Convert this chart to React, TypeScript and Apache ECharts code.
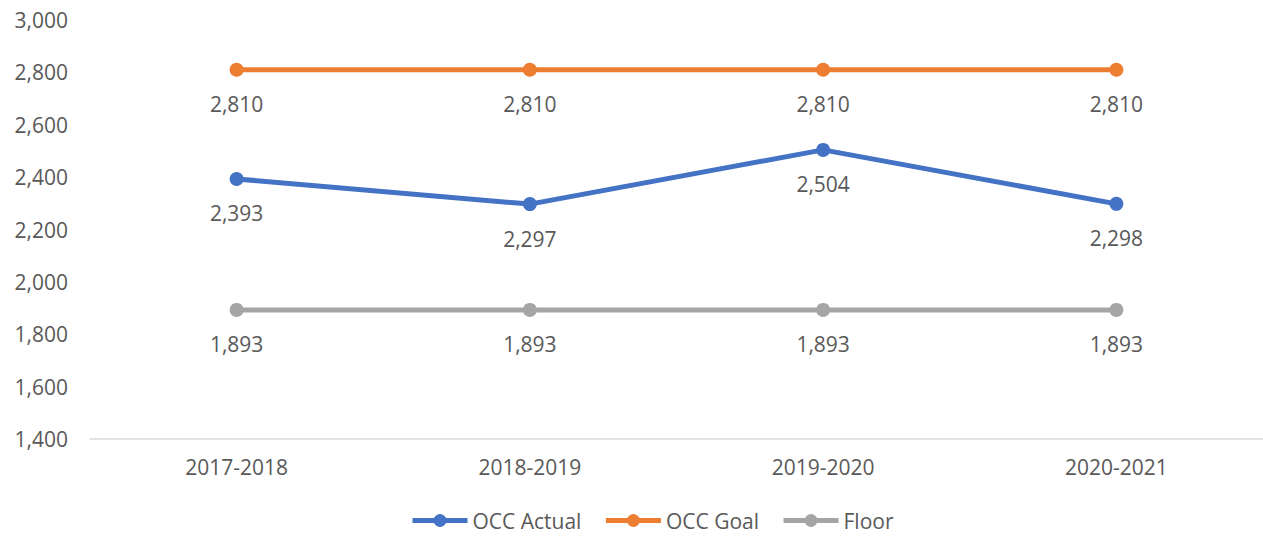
import React, { useEffect, useRef } from "react";
import * as echarts from "echarts";

const categories = ["2017-2018", "2018-2019", "2019-2020", "2020-2021"];
const occActual = [2393, 2297, 2504, 2298];
const occGoal = [2810, 2810, 2810, 2810];
const floor = [1893, 1893, 1893, 1893];
const seriesNames = ["OCC Actual", "OCC Goal", "Floor"];
const colors = ["#4472C4", "#ED7D31", "#A5A5A5"];

const FONT = "'Open Sans', 'Noto Sans', sans-serif";
const TEXT = "#595959";

export default function App() {
  const ref = useRef<HTMLDivElement>(null);
  useEffect(() => {
    if (!ref.current) return;
    const chart = echarts.init(ref.current, undefined, { renderer: "svg" });
    const fmt = (v: number) => v.toLocaleString("en-US");
    const mk = (name: string, data: number[], color: string) => ({
      name,
      type: "line",
      data,
      color,
      symbol: "circle",
      symbolSize: 14,
      lineStyle: { width: 5, color },
      itemStyle: { color },
      label: {
        show: true,
        position: "bottom",
        distance: 17,
        color: TEXT,
        fontFamily: FONT,
        fontSize: 21,
        formatter: (p: any) => fmt(p.value),
      },
    });
    chart.setOption({
      animation: false,
      textStyle: { fontFamily: FONT },
      grid: { left: 90, right: 0, top: 20, bottom: 97, containLabel: false },
      legend: {
        bottom: 0,
        left: 405,
        itemWidth: 55,
        itemHeight: 16,
        itemGap: 22,
        lineStyle: { width: 5 },
        textStyle: { color: TEXT, fontFamily: FONT, fontSize: 21 },
        data: seriesNames,
      },
      xAxis: {
        type: "category",
        data: categories,
        boundaryGap: true,
        axisLine: { show: true, lineStyle: { color: "#D9D9D9", width: 1.5 } },
        axisTick: { show: false },
        axisLabel: { color: TEXT, fontFamily: FONT, fontSize: 21, margin: 17 },
      },
      yAxis: {
        type: "value",
        min: 1400,
        max: 3000,
        interval: 200,
        splitLine: { show: false },
        axisLine: { show: false },
        axisTick: { show: false },
        axisLabel: {
          color: TEXT,
          fontFamily: FONT,
          fontSize: 21,
          margin: 22,
          formatter: (v: number) => fmt(v),
        },
      },
      series: [
        mk(seriesNames[0], occActual, colors[0]),
        mk(seriesNames[1], occGoal, colors[1]),
        mk(seriesNames[2], floor, colors[2]),
      ],
    });
    return () => chart.dispose();
  }, []);
  return (
    <div
      ref={ref}
      style={{ position: "fixed", left: 0, top: 0, width: 1263, height: 536, background: "#fff" }}
    />
  );
}
